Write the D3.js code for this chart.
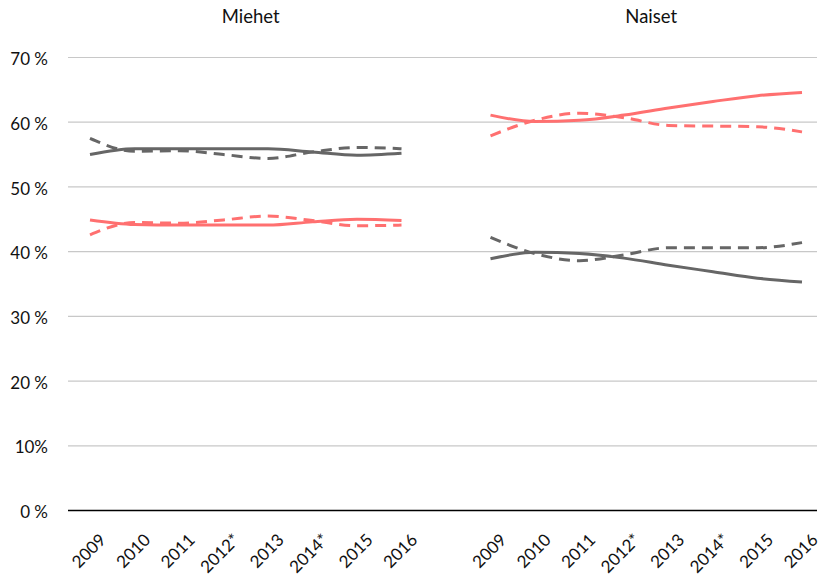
<!DOCTYPE html>
<html><head><meta charset="utf-8">
<script src="https://cdn.jsdelivr.net/npm/d3@7"></script>
<style>
html,body{margin:0;padding:0;background:#fff;}
text{font-family:Lato,"Open Sans",sans-serif;fill:#111;}
</style></head>
<body><svg id="c" width="826" height="582"></svg>
<script>
const years = ["2009","2010","2011","2012*","2013","2014*","2015","2016"];
const panels = ["Miehet","Naiset"];
const yTicks = [0,10,20,30,40,50,60,70];
const yTickLabels = ["0 %","10%","20 %","30 %","40 %","50 %","60 %","70 %"];

// Miehet
const menGreySolid  = [55.0,55.9,55.9,55.9,55.9,55.4,54.9,55.2];
const menGreyDash   = [57.5,55.5,55.6,55.0,54.4,55.4,56.1,55.9];
const menRedSolid   = [44.9,44.2,44.1,44.1,44.1,44.6,45.0,44.8];
const menRedDash    = [42.6,44.5,44.4,44.9,45.5,44.8,44.0,44.1];
// Naiset
const womenRedSolid = [61.1,60.1,60.3,61.1,62.2,63.2,64.1,64.6];
const womenRedDash  = [57.9,60.3,61.4,60.7,59.5,59.4,59.3,58.5];
const womenGreySolid= [38.9,39.9,39.7,39.0,37.9,36.9,35.9,35.3];
const womenGreyDash = [42.2,39.7,38.6,39.5,40.6,40.6,40.6,41.4];

const GREY = "#666666", RED = "#ff7070";
const series = [
  {panel:0, values:menGreySolid, color:GREY, dash:null},
  {panel:0, values:menGreyDash, color:GREY, dash:"11,7"},
  {panel:0, values:menRedSolid, color:RED, dash:null},
  {panel:0, values:menRedDash, color:RED, dash:"11,7"},
  {panel:1, values:womenRedSolid, color:RED, dash:null},
  {panel:1, values:womenRedDash, color:RED, dash:"11,7"},
  {panel:1, values:womenGreySolid, color:GREY, dash:null},
  {panel:1, values:womenGreyDash, color:GREY, dash:"11,7"}
];

const svg = d3.select("#c");
const left = 68, right = 817;
const y = d3.scaleLinear().domain([0,70]).range([510.5,57.5]);

// combined slots: 8 + 1 gap + 8
const slots = d3.range(17);
const x = d3.scalePoint().domain(slots).range([90,802]);
const slotOf = (p,i) => p*9 + i;

// gridlines
svg.append("g").selectAll("line").data(yTicks.filter(d=>d>0)).join("line")
  .attr("x1",left).attr("x2",right)
  .attr("y1",d=>y(d)).attr("y2",d=>y(d))
  .attr("stroke","#c8c8c8").attr("stroke-width",1.2);

// y tick labels
svg.append("g").selectAll("text").data(yTicks).join("text")
  .attr("x",48).attr("y",d=>y(d)).attr("dy","0.45em")
  .attr("text-anchor","end").style("font-size","17px")
  .text((d,i)=>yTickLabels[i]);

// baseline
svg.append("line").attr("x1",left).attr("x2",right)
  .attr("y1",y(0)).attr("y2",y(0)).attr("stroke","#000").attr("stroke-width",1.5);

// panel titles
panels.forEach((p,pi)=>{
  const cx = (x(slotOf(pi,0)) + x(slotOf(pi,7)))/2 + 5;
  svg.append("text").attr("x",cx).attr("y",23).attr("text-anchor","middle")
    .style("font-size","18.5px").text(p);
  // x labels
  svg.append("g").selectAll("text").data(years).join("text")
    .attr("transform",(d,i)=>`translate(${x(slotOf(pi,i))+17},${541}) rotate(-45)`)
    .attr("text-anchor","end").style("font-size","17px").text(d=>d);
});

const line = d3.line().x(d=>x(d.s)).y(d=>y(d.v)).curve(d3.curveMonotoneX);
series.forEach(s=>{
  const pts = s.values.map((v,i)=>({s:slotOf(s.panel,i), v}));
  svg.append("path").attr("d",line(pts)).attr("fill","none")
    .attr("stroke",s.color).attr("stroke-width",3)
    .attr("stroke-dasharray",s.dash);
});
</script></body></html>
